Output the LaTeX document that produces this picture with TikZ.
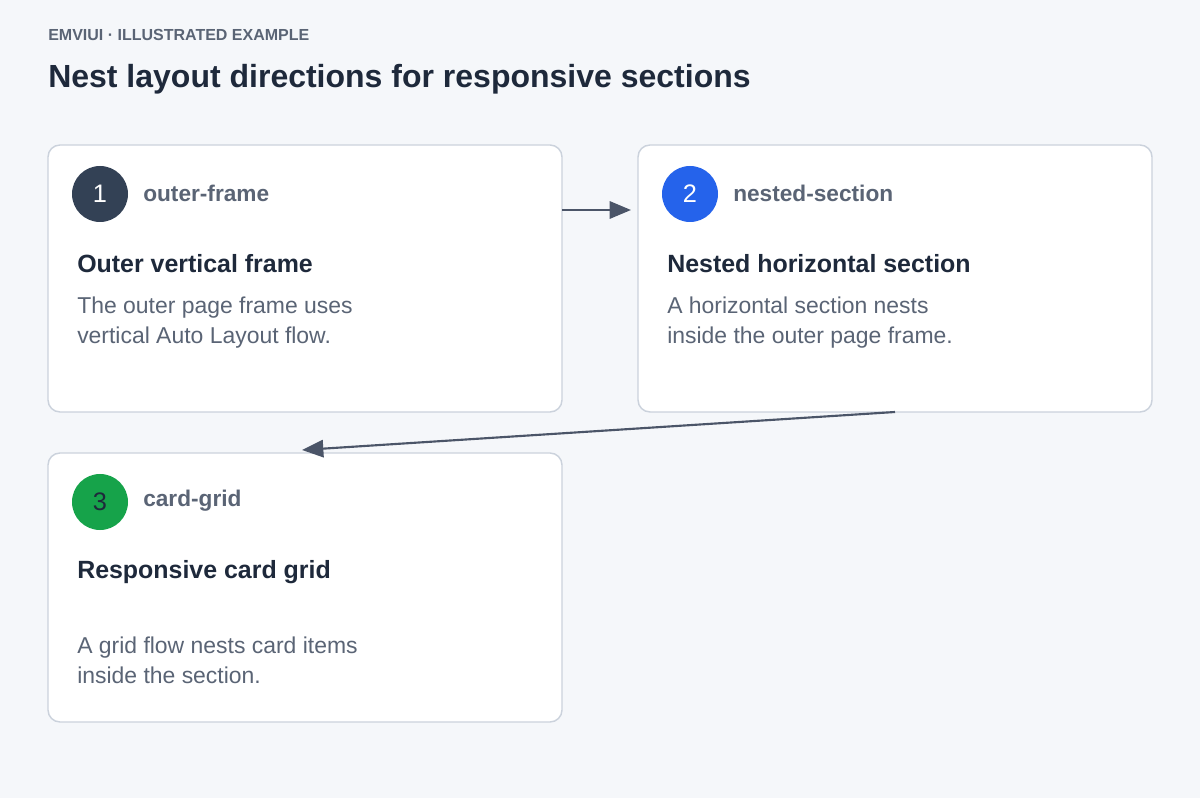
\documentclass[tikz,border=0pt]{standalone}
\usepackage{fontspec}
\setmainfont{Liberation Sans}
\usetikzlibrary{arrows.meta}
\definecolor{bg}{HTML}{F5F7FA}
\definecolor{bd}{HTML}{CBD2DC}
\definecolor{ink}{HTML}{1E293B}
\definecolor{mut}{HTML}{5A6475}
\definecolor{cA}{HTML}{334155}
\definecolor{cB}{HTML}{2563EB}
\definecolor{cC}{HTML}{16A34A}
\definecolor{arr}{HTML}{4B5568}
\begin{document}
\begin{tikzpicture}[x=0.75pt,y=-0.75pt,
 card/.style={draw=bd,line width=1.1pt,fill=white,rounded corners=9pt},
 num/.style={circle,minimum size=42pt,inner sep=0pt,font=\fontsize{19}{21}\selectfont},
 tag/.style={anchor=west,inner sep=0pt,text=mut,font=\bfseries\fontsize{17}{20}\selectfont},
 ttl/.style={anchor=west,inner sep=0pt,text=ink,font=\bfseries\fontsize{18.7}{22}\selectfont},
 body/.style={anchor=north west,inner sep=0pt,text=mut,align=left,font=\fontsize{17.2}{22.5}\selectfont},
 conn/.style={draw=arr,line width=1.6pt,-{Triangle[length=16pt,width=13pt]}}]
\useasboundingbox[fill=bg] (0,0) rectangle (1200,798);
\node[anchor=west,inner sep=0pt,text=mut,font=\bfseries\fontsize{12}{14}\selectfont] (hdr) at (48,35) {EMVIUI · ILLUSTRATED EXAMPLE};
\node[anchor=west,inner sep=0pt,text=ink,font=\bfseries\fontsize{24}{28}\selectfont] (title) at (48,79) {Nest layout directions for responsive sections};
\path[card] (48,145) rectangle (562,412);
\path[card] (638,145) rectangle (1152,412);
\path[card] (48,453) rectangle (562,722);
\coordinate (c1r) at (562,210); \coordinate (c2l) at (631,210);
\coordinate (c2b) at (895,412); \coordinate (c3t) at (302,450);
\node[num,fill=cA,text=white] (n1) at (100,194) {1};
\node[tag] (t1) at (143,193) {outer-frame};
\node[ttl] (h1) at (77,264) {Outer vertical frame};
\node[body] (b1) at (77,297) {The outer page frame uses\\vertical Auto Layout flow.};
\node[num,fill=cB,text=white] (n2) at (690,194) {2};
\node[tag] (t2) at (733,193) {nested-section};
\node[ttl] (h2) at (667,264) {Nested horizontal section};
\node[body] (b2) at (667,297) {A horizontal section nests\\inside the outer page frame.};
\node[num,fill=cC,text=ink] (n3) at (100,502) {3};
\node[tag] (t3) at (143,501) {card-grid};
\node[ttl] (h3) at (77,572) {Responsive card grid};
\node[body] (b3) at (77,637) {A grid flow nests card items\\inside the section.};
\draw[conn] (c1r) -- (c2l);
\draw[conn] (c2b) -- (c3t);
\end{tikzpicture}
\end{document}
